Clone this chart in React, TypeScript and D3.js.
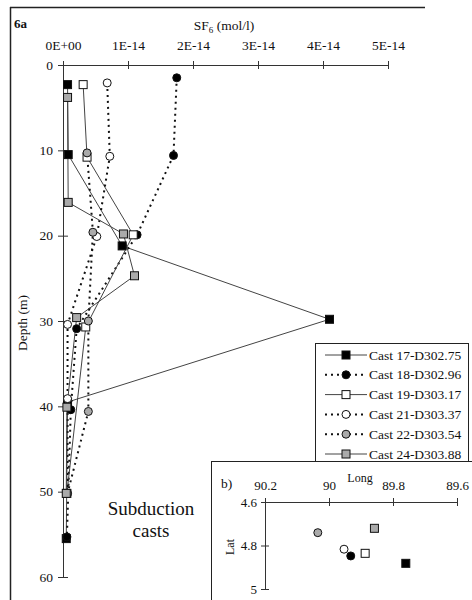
import * as React from "react";
import * as d3 from "d3";

// SF6 profiles, depth in m, SF6 in mol/l
const castNames = [
  "Cast 17-D302.75",
  "Cast 18-D302.96",
  "Cast 19-D303.17",
  "Cast 21-D303.37",
  "Cast 22-D303.54",
  "Cast 24-D303.88",
];

const cast17Depth = [2.3, 10.5, 21.2, 29.8, 39.5, 55.5];
const cast17Sf6 = [0.07e-14, 0.08e-14, 0.91e-14, 4.1e-14, 0.07e-14, 0.05e-14];

const cast18Depth = [1.5, 10.6, 19.9, 30.9, 40.4, 55.3];
const cast18Sf6 = [1.75e-14, 1.7e-14, 1.14e-14, 0.21e-14, 0.12e-14, 0.06e-14];

const cast19Depth = [2.3, 10.8, 19.9, 30.7, 50.2];
const cast19Sf6 = [0.31e-14, 0.37e-14, 1.08e-14, 0.35e-14, 0.06e-14];

const cast21Depth = [2.1, 10.7, 20.1, 30.4, 39.1, 50.2];
const cast21Sf6 = [0.68e-14, 0.72e-14, 0.52e-14, 0.07e-14, 0.07e-14, 0.07e-14];

const cast22Depth = [10.3, 19.6, 30.0, 40.6, 50.2];
const cast22Sf6 = [0.37e-14, 0.46e-14, 0.39e-14, 0.39e-14, 0.07e-14];

const cast24Depth = [3.8, 16.1, 19.8, 24.7, 29.6, 40.1, 50.2];
const cast24Sf6 = [0.07e-14, 0.08e-14, 0.93e-14, 1.1e-14, 0.21e-14, 0.06e-14, 0.05e-14];

const sf6Ticks = [0, 1e-14, 2e-14, 3e-14, 4e-14, 5e-14];
const sf6TickLabels = ["0E+00", "1E-14", "2E-14", "3E-14", "4E-14", "5E-14"];
const depthTicks = [0, 10, 20, 30, 40, 50, 60];

// inset b): cast positions (same order as castNames)
const castLong = [89.76, 89.932, 89.887, 89.953, 90.035, 89.858];
const castLat = [4.882, 4.848, 4.836, 4.817, 4.741, 4.721];
const longTicks = [90.2, 90, 89.8, 89.6];
const latTicks = [4.6, 4.8, 5];

const FONT = "Liberation Serif, Times New Roman, serif";

const styles = [
  { shape: "square", fill: "#000", dotted: false },
  { shape: "circle", fill: "#000", dotted: true },
  { shape: "square", fill: "#fff", dotted: false },
  { shape: "circle", fill: "#fff", dotted: true },
  { shape: "circle", fill: "#aaa", dotted: true },
  { shape: "square", fill: "#aaa", dotted: false },
];

function drawMarker(g, style, x, y) {
  if (style.shape === "square") {
    g.append("rect")
      .attr("x", x - 4)
      .attr("y", y - 4)
      .attr("width", 8)
      .attr("height", 8)
      .attr("fill", style.fill)
      .attr("stroke", "#111")
      .attr("stroke-width", 1);
  } else {
    g.append("circle")
      .attr("cx", x)
      .attr("cy", y)
      .attr("r", 4)
      .attr("fill", style.fill)
      .attr("stroke", "#111")
      .attr("stroke-width", 1);
  }
}

function styleLine(sel, style) {
  if (style.dotted) {
    sel.attr("stroke", "#111").attr("stroke-width", 2).attr("stroke-dasharray", "2,4");
  } else {
    sel.attr("stroke", "#444").attr("stroke-width", 1);
  }
  return sel;
}

export default function App() {
  const ref = React.useRef(null);

  React.useEffect(() => {
    const svg = d3.select(ref.current);
    svg.selectAll("*").remove();

    const casts = [
      [cast17Depth, cast17Sf6],
      [cast18Depth, cast18Sf6],
      [cast19Depth, cast19Sf6],
      [cast21Depth, cast21Sf6],
      [cast22Depth, cast22Sf6],
      [cast24Depth, cast24Sf6],
    ].map(([depth, sf6]) => depth.map((d, i) => ({ depth: d, sf6: sf6[i] })));

    const x = d3.scaleLinear().domain([0, 5e-14]).range([63, 388]);
    const y = d3.scaleLinear().domain([0, 60]).range([65, 577]);

    // frame
    svg.append("line").attr("x1", 10.5).attr("x2", 10.5).attr("y1", 7).attr("y2", 600)
      .attr("stroke", "#222").attr("stroke-width", 1.5);
    svg.append("line").attr("x1", 10).attr("x2", 425).attr("y1", 7.5).attr("y2", 7.5)
      .attr("stroke", "#222").attr("stroke-width", 1.5);

    svg.append("text").attr("x", 14).attr("y", 28).attr("font-family", FONT)
      .attr("font-size", 13).attr("font-weight", "bold").attr("fill", "#111").text("6a");

    const title = svg.append("text").attr("x", 224).attr("y", 30).attr("text-anchor", "middle")
      .attr("font-family", FONT).attr("font-size", 13.5).attr("fill", "#111");
    title.append("tspan").text("SF");
    title.append("tspan").attr("font-size", 9).attr("dy", 3).text("6");
    title.append("tspan").attr("dy", -3).text(" (mol/l)");

    // axes
    const xAxis = d3.axisTop(x).tickValues(sf6Ticks).tickSize(0).tickSizeOuter(0).tickPadding(15)
      .tickFormat((d, i) => sf6TickLabels[i]);
    const gx = svg.append("g").attr("transform", "translate(0,65)").call(xAxis);
    gx.selectAll(".tick line").attr("y1", -4).attr("y2", 4);

    const yAxis = d3.axisLeft(y).tickValues(depthTicks).tickSize(0).tickSizeOuter(0).tickPadding(10);
    const gy = svg.append("g").attr("transform", "translate(63,0)").call(yAxis);
    gy.selectAll(".tick line").attr("x1", -5).attr("x2", 5);

    [gx, gy].forEach((g) => {
      g.attr("font-family", FONT).attr("font-size", 13.5);
      g.selectAll("text").attr("fill", "#111");
      g.selectAll(".domain, .tick line").attr("stroke", "#333");
    });

    svg.append("text").attr("transform", "translate(27,323) rotate(-90)").attr("text-anchor", "middle")
      .attr("font-family", FONT).attr("font-size", 13.5).attr("fill", "#111").text("Depth (m)");

    // profiles
    const line = d3.line().x((d) => x(d.sf6)).y((d) => y(d.depth));
    const plot = svg.append("g");
    casts.forEach((c, i) => {
      styleLine(plot.append("path").attr("d", line(c)).attr("fill", "none"), styles[i]);
    });
    casts.forEach((c, i) => {
      c.forEach((d) => drawMarker(plot, styles[i], x(d.sf6), y(d.depth)));
    });

    svg.append("text").attr("x", 151).attr("y", 515).attr("text-anchor", "middle")
      .attr("font-family", FONT).attr("font-size", 19).attr("fill", "#111").text("Subduction");
    svg.append("text").attr("x", 151).attr("y", 537).attr("text-anchor", "middle")
      .attr("font-family", FONT).attr("font-size", 19).attr("fill", "#111").text("casts");

    // legend
    const legend = svg.append("g");
    legend.append("rect").attr("x", 315.5).attr("y", 343.5).attr("width", 153).attr("height", 118)
      .attr("fill", "#fff").attr("stroke", "#222").attr("stroke-width", 1);
    castNames.forEach((name, i) => {
      const ly = 355 + i * 19.8;
      styleLine(legend.append("line").attr("x1", 325).attr("x2", 367).attr("y1", ly).attr("y2", ly), styles[i]);
      drawMarker(legend, styles[i], 346, ly);
      legend.append("text").attr("x", 369).attr("y", ly + 4.5).attr("font-family", FONT)
        .attr("font-size", 13.5).attr("fill", "#111").text(name);
    });

    // inset b)
    const inset = svg.append("g");
    inset.append("rect").attr("x", 211.5).attr("y", 461.5).attr("width", 262).attr("height", 140)
      .attr("fill", "#fff").attr("stroke", "#222").attr("stroke-width", 1);

    const lx = d3.scaleLinear().domain([90.2, 89.6]).range([265, 457]);
    const ly = d3.scaleLinear().domain([4.6, 5]).range([502, 589]);

    inset.append("text").attr("x", 221).attr("y", 488).attr("font-family", FONT)
      .attr("font-size", 13.5).attr("fill", "#111").text("b)");
    inset.append("text").attr("x", 360).attr("y", 482).attr("text-anchor", "middle")
      .attr("font-family", FONT).attr("font-size", 12).attr("fill", "#111").text("Long");
    inset.append("text").attr("transform", "translate(234,547) rotate(-90)").attr("text-anchor", "middle")
      .attr("font-family", FONT).attr("font-size", 12).attr("fill", "#111").text("Lat");

    const gLong = inset.append("g").attr("transform", "translate(0,502)")
      .call(d3.axisTop(lx).tickValues(longTicks).tickSize(0).tickSizeOuter(0).tickPadding(12)
        .tickFormat(d3.format("~g")));
    gLong.selectAll(".tick line").attr("y1", -4).attr("y2", 4);

    const gLat = inset.append("g").attr("transform", "translate(265,0)")
      .call(d3.axisLeft(ly).tickValues(latTicks).tickSize(0).tickSizeOuter(0).tickPadding(8)
        .tickFormat(d3.format("~g")));
    gLat.selectAll(".tick line").attr("x1", -4).attr("x2", 4);

    [gLong, gLat].forEach((g) => {
      g.attr("font-family", FONT).attr("font-size", 13);
      g.selectAll("text").attr("fill", "#111");
      g.selectAll(".domain, .tick line").attr("stroke", "#333");
    });

    castLong.forEach((lon, i) => drawMarker(inset, styles[i], lx(lon), ly(castLat[i])));
  }, []);

  return (
    <svg
      ref={ref}
      width={472}
      height={600}
      style={{ position: "absolute", left: 0, top: 0, background: "#fff" }}
    />
  );
}
